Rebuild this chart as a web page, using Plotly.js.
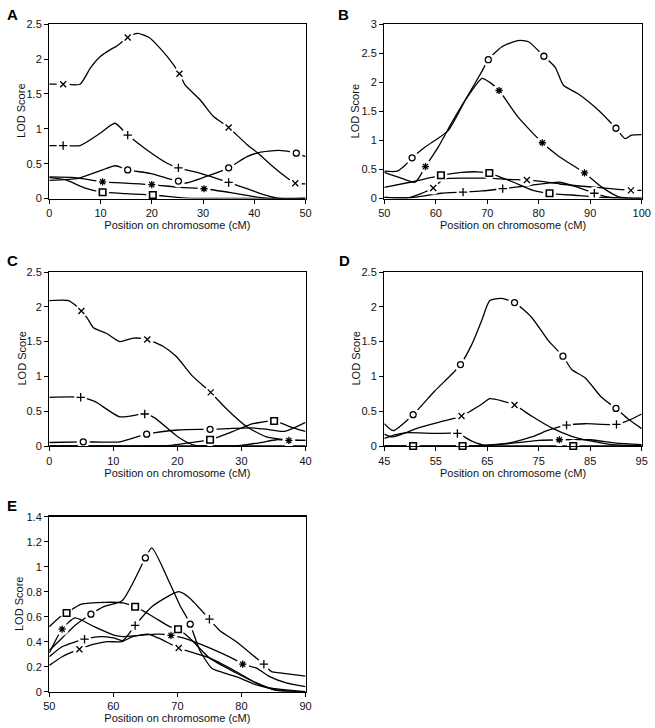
<!DOCTYPE html>
<html><head><meta charset="utf-8">
<script src="https://cdn.plot.ly/plotly-3.0.1.min.js"></script>
<style>html,body{margin:0;padding:0;background:#fff}#chart{width:655px;height:728px}</style>
</head><body><div id="chart"></div>
<script>
// ---------- Panel A (0–50 cM) ----------
const A_x_pos=[0,2.7,6,8,10,12,13,15.3,17.2,19.5,23,25.4,26.5,29.5,32,35,38.5,40.9,43,45.8,48,50];
const A_x_lod=[1.64,1.64,1.64,1.87,2.04,2.14,2.18,2.31,2.37,2.31,2.04,1.79,1.63,1.41,1.18,1.02,0.78,0.64,0.50,0.33,0.22,0.21];
const A_x_mk=[1,7,11,15,20];
const A_p_pos=[0,2.7,6,10,12.8,15.3,19,22.9,25.2,29.5,35,39,42.5,45,50];
const A_p_lod=[0.76,0.76,0.76,0.94,1.08,0.91,0.70,0.51,0.44,0.36,0.23,0.13,0.04,0.0,0.0];
const A_p_mk=[1,5,8,10];
const A_o_pos=[0,5.7,10,12.9,15.3,19.7,23,25.2,26.5,30.8,35,38.6,40.9,44.8,48.2,50];
const A_o_lod=[0.26,0.29,0.40,0.47,0.41,0.36,0.29,0.25,0.22,0.32,0.44,0.60,0.66,0.69,0.65,0.60];
const A_o_mk=[4,7,10,14];
const A_s_pos=[0,5,10.4,15,20,25.5,30.2,35.7,39.7,43,50];
const A_s_lod=[0.31,0.30,0.24,0.22,0.20,0.16,0.14,0.08,0.03,0.0,0.0];
const A_s_mk=[2,4,6];
const A_q_pos=[0,3.1,7,10.4,15,20.2,26,30,50];
const A_q_lod=[0.30,0.27,0.15,0.09,0.07,0.05,0.01,0.0,0.0];
const A_q_mk=[3,5];

// ---------- Panel B (50–100 cM) ----------
const B_o_pos=[50,52.5,54,55.4,58,62.4,65.7,68.9,70.2,72.8,76,78,81,83.2,84.8,87.7,91.6,95,96.8,98,100];
const B_o_lod=[0.47,0.47,0.57,0.70,0.89,1.17,1.69,2.18,2.39,2.61,2.72,2.70,2.45,2.26,1.95,1.80,1.52,1.21,1.03,1.09,1.10];
const B_o_mk=[3,8,12,17];
const B_s_pos=[50,53,56,58,60.5,63,65.7,69,70.5,72.3,76,80.7,84,88.9,92.2,95.5,100];
const B_s_lod=[0.45,0.36,0.28,0.55,0.89,1.29,1.69,2.07,2.0,1.86,1.40,0.96,0.72,0.44,0.20,0.03,0.0];
const B_s_mk=[3,9,11,13];
const B_q_pos=[50,55,58,61,65,68,70.4,72.5,75.1,78.9,82.1,88,92,100];
const B_q_lod=[0.19,0.28,0.34,0.40,0.45,0.46,0.44,0.37,0.28,0.14,0.09,0.05,0.02,0.0];
const B_q_mk=[3,6,10];
const B_x_pos=[50,53,55,57,59.5,61.5,66,70.4,74,77.7,81,84.1,91.3,97.9,100];
const B_x_lod=[0.02,0.01,0.02,0.08,0.18,0.33,0.35,0.35,0.33,0.32,0.29,0.25,0.19,0.14,0.14];
const B_x_mk=[4,9,13];
const B_p_pos=[50,54.7,58,61,65.3,69,73,78,84.1,88,90.8,94,100];
const B_p_lod=[0.02,0.01,0.05,0.09,0.11,0.13,0.17,0.22,0.28,0.18,0.09,0.02,0.0];
const B_p_mk=[4,6,10];

// ---------- Panel C (0–40 cM) ----------
const C_x_pos=[0,3,4,5,5.9,6.9,8.9,11,13.1,15.3,17.8,19.8,22.4,25.2,27.6,30.8,33.9,36,40];
const C_x_lod=[2.09,2.09,2.03,1.94,1.84,1.70,1.62,1.50,1.55,1.53,1.43,1.29,1.00,0.77,0.54,0.28,0.13,0.10,0.08];
const C_x_mk=[3,9,13];
const C_p_pos=[0,4.9,7.1,11,14.9,16.5,20.1,22.7,26,40];
const C_p_lod=[0.70,0.70,0.64,0.42,0.46,0.40,0.13,0.01,0.0,0.0];
const C_p_mk=[1,4];
const C_o_pos=[0,5.3,11,15.2,20.1,25.1,31.5,34,36.7,40];
const C_o_lod=[0.05,0.06,0.06,0.17,0.23,0.24,0.26,0.24,0.21,0.34];
const C_o_mk=[1,3,5];
const C_q_pos=[0,10,15,19,21.4,25.1,28.7,31.8,35.1,37.5,40];
const C_q_lod=[0,0,0,0.01,0.04,0.09,0.21,0.32,0.36,0.28,0.21];
const C_q_mk=[5,8];
const C_s_pos=[0,25,30,33,35.5,37.4,40];
const C_s_lod=[0,0,0.01,0.05,0.09,0.08,0.08];
const C_s_mk=[5];

// ---------- Panel D (45–95 cM) ----------
const D_o_pos=[45,46.7,50.6,54.8,58.1,59.8,62,63.9,65.5,67.8,70.3,73.6,76.9,79.7,81.4,84,87.2,90,92.5,95];
const D_o_lod=[0.32,0.22,0.45,0.79,1.03,1.17,1.46,1.80,2.09,2.12,2.06,1.85,1.51,1.29,1.10,0.98,0.70,0.54,0.38,0.25];
const D_o_mk=[2,5,10,13,17];
const D_x_pos=[45,46.5,51.6,56,60,63.9,65.5,67.8,70.3,73.6,77.5,81.4,85.3,89.2,95];
const D_x_lod=[0.17,0.13,0.26,0.35,0.43,0.60,0.68,0.65,0.59,0.43,0.26,0.14,0.07,0.02,0.01];
const D_x_mk=[4,8];
const D_p_pos=[45,47,49,54.8,59.2,62,64.6,69,73.6,77,80.4,84,90.1,92.5,95];
const D_p_lod=[0.11,0.16,0.19,0.18,0.18,0.07,0.01,0.04,0.13,0.23,0.30,0.32,0.31,0.37,0.46];
const D_p_mk=[4,10,12];
const D_s_pos=[45,60,64,70,75,79,85,90,95];
const D_s_lod=[0,0,0.01,0.04,0.08,0.09,0.09,0.04,0.02];
const D_s_mk=[5];
const D_q_pos=[45,50.6,60.2,81.7,95];
const D_q_lod=[0,0,0,0,0];
const D_q_mk=[1,2,3];

// ---------- Panel E (50–90 cM) ----------
const E_q_pos=[50,51.7,52.7,55,58.7,61.5,63.4,66.2,68.8,70.1,71.9,75,79.2,82.3,84.4,90];
const E_q_lod=[0.52,0.60,0.63,0.70,0.715,0.71,0.68,0.60,0.52,0.50,0.43,0.27,0.15,0.07,0.03,0.0];
const E_q_mk=[2,6,9];
const E_o_pos=[50,52,54,56.5,58.5,61.4,65,66,68.8,70.4,71.4,72,73.5,75.3,76.1,79.2,82,86,90];
const E_o_lod=[0.33,0.43,0.53,0.62,0.68,0.73,1.07,1.15,0.87,0.69,0.60,0.54,0.33,0.19,0.17,0.12,0.06,0.01,0.0];
const E_o_mk=[3,6,11];
const E_s_pos=[50,52,54,57,60.2,61.5,64,67,69,70.9,75,79.2,80.2,82.3,84.4,87,90];
const E_s_lod=[0.31,0.50,0.59,0.52,0.45,0.44,0.45,0.46,0.45,0.43,0.35,0.25,0.22,0.19,0.12,0.07,0.04];
const E_s_mk=[1,8,12];
const E_p_pos=[50,52,55.5,58,60,61.5,63.4,66,70.2,71.9,75,76.6,79.2,82.3,83.5,84.7,86,90];
const E_p_lod=[0.28,0.36,0.42,0.44,0.43,0.41,0.53,0.68,0.80,0.75,0.58,0.49,0.40,0.27,0.22,0.16,0.15,0.125];
const E_p_mk=[2,6,10,14];
const E_x_pos=[50,52,54.7,57,59,61.3,63,65.4,67,70.2,71.9,75,79.2,82.3,85.4,90];
const E_x_lod=[0.21,0.28,0.34,0.38,0.40,0.40,0.44,0.46,0.43,0.35,0.32,0.27,0.16,0.07,0.01,0.0];
const E_x_mk=[2,9];

// ---------- axis ticks ----------
const A_xticks=[0,10,20,30,40,50], B_xticks=[50,60,70,80,90,100], C_xticks=[0,10,20,30,40];
const D_xticks=[45,55,65,75,85,95], E_xticks=[50,60,70,80,90];
const ABCD_yticks=[0,0.5,1,1.5,2,2.5], B_yticks=[0,0.5,1,1.5,2,2.5,3], E_yticks=[0,0.2,0.4,0.6,0.8,1,1.2,1.4];

const SYM={x:'x-thin-open','+':'cross-thin-open',o:'circle-open','*':'asterisk-open',s:'square-open'};
const series=[
 ['',A_x_pos,A_x_lod,A_x_mk,'x'],['',A_p_pos,A_p_lod,A_p_mk,'+'],['',A_o_pos,A_o_lod,A_o_mk,'o'],['',A_s_pos,A_s_lod,A_s_mk,'*'],['',A_q_pos,A_q_lod,A_q_mk,'s'],
 ['2',B_o_pos,B_o_lod,B_o_mk,'o'],['2',B_s_pos,B_s_lod,B_s_mk,'*'],['2',B_q_pos,B_q_lod,B_q_mk,'s'],['2',B_x_pos,B_x_lod,B_x_mk,'x'],['2',B_p_pos,B_p_lod,B_p_mk,'+'],
 ['3',C_x_pos,C_x_lod,C_x_mk,'x'],['3',C_p_pos,C_p_lod,C_p_mk,'+'],['3',C_o_pos,C_o_lod,C_o_mk,'o'],['3',C_q_pos,C_q_lod,C_q_mk,'s'],['3',C_s_pos,C_s_lod,C_s_mk,'*'],
 ['4',D_o_pos,D_o_lod,D_o_mk,'o'],['4',D_x_pos,D_x_lod,D_x_mk,'x'],['4',D_p_pos,D_p_lod,D_p_mk,'+'],['4',D_s_pos,D_s_lod,D_s_mk,'*'],['4',D_q_pos,D_q_lod,D_q_mk,'s'],
 ['5',E_q_pos,E_q_lod,E_q_mk,'s'],['5',E_o_pos,E_o_lod,E_o_mk,'o'],['5',E_s_pos,E_s_lod,E_s_mk,'*'],['5',E_p_pos,E_p_lod,E_p_mk,'+'],['5',E_x_pos,E_x_lod,E_x_mk,'x']
];

const lines=[],masks=[],marks=[];
series.forEach(([ax,px,py,mk,sym])=>{
  const xa='x'+ax, ya='y'+ax;
  lines.push({type:'scatter',mode:'lines',x:px,y:py,xaxis:xa,yaxis:ya,showlegend:false,hoverinfo:'skip',
    line:{color:'#000',width:1.3,shape:'spline',smoothing:0.6}});
  const mx=mk.map(i=>px[i]), my=mk.map(i=>py[i]);
  masks.push({type:'scatter',mode:'markers',x:mx,y:my,xaxis:xa,yaxis:ya,showlegend:false,hoverinfo:'skip',cliponaxis:false,
    marker:{symbol:'circle',size:13,color:'#fff',line:{width:0}}});
  const sz = sym==='s'?6.5:6;
  marks.push({type:'scatter',mode:'markers',x:mx,y:my,xaxis:xa,yaxis:ya,showlegend:false,cliponaxis:false,
    marker:{symbol:SYM[sym],size:sz,color:'#000',line:{color:'#000',width:sym==='s'?1.6:1.3}}});
});

const W=655,H=728;
const colL=[49.3/W,305.5/W], colR=[384.3/W,641.7/W];
const row1=[1-198.5/H,1-24.3/H], row2=[1-446/H,1-272/H], row3=[1-691.7/H,1-516.7/H];
const tf={family:'Liberation Sans, Arial, sans-serif',size:11,color:'#111'};
function xax(dom,range,ticks,anchor){return {domain:dom,range:range,tickvals:ticks,anchor:anchor,showgrid:false,zeroline:false,
  showline:true,linecolor:'#000',linewidth:1.3,mirror:true,ticks:'outside',ticklen:4,tickwidth:1,tickcolor:'#000',tickfont:tf,
  title:{text:'Position on chromosome (cM)',font:tf,standoff:3},fixedrange:true};}
function yax(dom,range,ticks,anchor){return {domain:dom,range:range,tickvals:ticks,anchor:anchor,showgrid:false,zeroline:false,
  showline:true,linecolor:'#000',linewidth:1.3,mirror:true,ticks:'outside',ticklen:4,tickwidth:1,tickcolor:'#000',tickfont:tf,
  fixedrange:true};}

const lf={family:'Liberation Sans, Arial, sans-serif',size:15,color:'#000'};
function letter(t,x,y){return {text:'<b>'+t+'</b>',x:x/W,y:1-y/H,xref:'paper',yref:'paper',xanchor:'left',yanchor:'middle',showarrow:false,font:lf};}
function ytitle(x,y){return {text:'LOD Score',x:x/W,y:1-y/H,xref:'paper',yref:'paper',xanchor:'center',yanchor:'middle',textangle:-90,showarrow:false,font:tf};}

const layout={width:W,height:H,margin:{l:0,r:0,t:0,b:0},paper_bgcolor:'#fff',plot_bgcolor:'#fff',showlegend:false,
  xaxis:xax(colL,[0,50],A_xticks,'y'), yaxis:yax(row1,[0,2.5],ABCD_yticks,'x'),
  xaxis2:xax(colR,[50,100],B_xticks,'y2'), yaxis2:yax(row1,[0,3],B_yticks,'x2'),
  xaxis3:xax(colL,[0,40],C_xticks,'y3'), yaxis3:yax(row2,[0,2.5],ABCD_yticks,'x3'),
  xaxis4:xax(colR,[45,95],D_xticks,'y4'), yaxis4:yax(row2,[0,2.5],ABCD_yticks,'x4'),
  xaxis5:xax(colL,[50,90],E_xticks,'y5'), yaxis5:yax(row3,[0,1.4],E_yticks,'x5'),
  annotations:[letter('A',5,14),letter('B',336,14),letter('C',5,260),letter('D',337,260),letter('E',5,505),
    ytitle(21.5,111.4),ytitle(355,111.4),ytitle(21.5,359),ytitle(355,358.5),ytitle(19,604)]
};
Plotly.newPlot('chart',lines.concat(masks,marks),layout,{staticPlot:true,displayModeBar:false});
</script></body></html>
